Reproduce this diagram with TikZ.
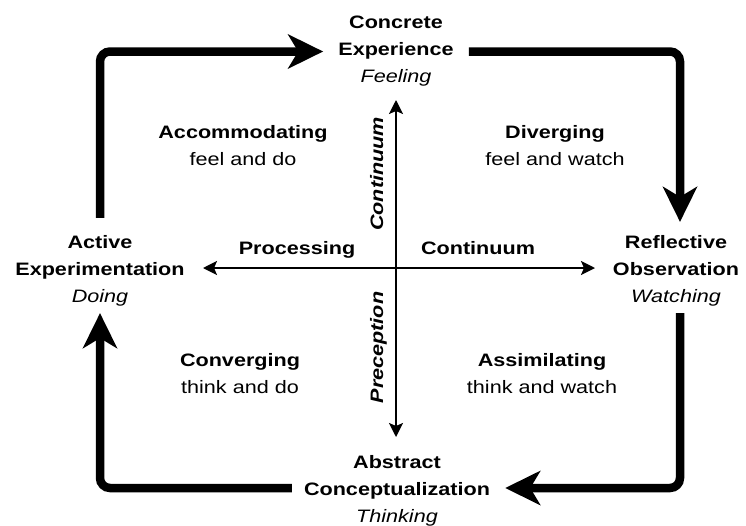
\documentclass[tikz,border=0pt]{standalone}
\usepackage{fontspec}
\setmainfont{Liberation Sans}[FakeStretch=1.2]
% wide faces for the bold and italic labels
\newfontface\wbf{Liberation Sans Bold}[FakeStretch=1.2]
\newfontface\wit{Liberation Sans Italic}[FakeStretch=1.2]
\newfontface\wbfit{Liberation Sans Bold Italic}[FakeStretch=1.2]
\usetikzlibrary{arrows.meta}
\begin{document}
\begin{tikzpicture}[x=1pt,y=-1pt,
  lbl/.style={align=center,inner sep=0pt,font=\fontsize{18}{27}\selectfont},
  axislbl/.style={inner sep=0pt,font=\fontsize{18}{27}\selectfont\wbf},
  cyclearrow/.style={line width=8.5pt,rounded corners=10pt,
    -{Stealth[length=35pt,width=34pt,inset=10pt]}},
  axisarrow/.style={line width=2pt,
    {Stealth[length=14pt,width=14pt,inset=3pt]}-{Stealth[length=14pt,width=14pt,inset=3pt]}}]
\useasboundingbox (0,0) rectangle (746,525);

% the four learning stages
\node[lbl] (ce) at (396,51.5) {{\wbf Concrete}\\{\wbf Experience}\\{\wit Feeling}};
\node[lbl] (ro) at (676,270.5) {{\wbf Reflective}\\{\wbf Observation}\\{\wit Watching}};
\node[lbl] (ac) at (397,490.5) {{\wbf Abstract}\\{\wbf Conceptualization}\\{\wit Thinking}};
\node[lbl] (ae) at (100,270.5) {{\wbf Active}\\{\wbf Experimentation}\\{\wit Doing}};

% the four learning styles
\node[lbl] (acc) at (243,146) {{\wbf Accommodating}\\feel and do};
\node[lbl] (div) at (555,146) {{\wbf Diverging}\\feel and watch};
\node[lbl] (con) at (240,374) {{\wbf Converging}\\think and do};
\node[lbl] (ass) at (542,374) {{\wbf Assimilating}\\think and watch};

% axis labels
\node[axislbl,anchor=base] (proc) at (297,254) {Processing};
\node[axislbl,anchor=base] (pcont) at (478,254) {Continuum};
\node[axislbl,anchor=base,rotate=90] (vcont) at (383,174) {\wbfit Continuum};
\node[axislbl,anchor=base,rotate=90] (prec) at (383,347.5) {\wbfit Preception};

% axes
\coordinate (vtop) at (396,100);
\coordinate (vbot) at (396,437);
\coordinate (hleft) at (203,268);
\coordinate (hright) at (595,268);
\draw[axisarrow] (vbot) -- (vtop);
\draw[axisarrow] (hleft) -- (hright);

% the learning cycle
\draw[cyclearrow,shorten <=17pt,shorten >=15pt] (ae.north) |- (ce.west);
\draw[cyclearrow,shorten <=15pt,shorten >=13pt] (ce.east) -| ([xshift=4pt]ro.north);
\draw[cyclearrow,shorten <=7pt,shorten >=15pt] ([xshift=4pt]ro.south) |- ([yshift=2.5pt]ac.east);
\draw[cyclearrow,shorten <=12pt,shorten >=7pt] ([yshift=2.5pt]ac.west) -| (ae.south);
\end{tikzpicture}
\end{document}
